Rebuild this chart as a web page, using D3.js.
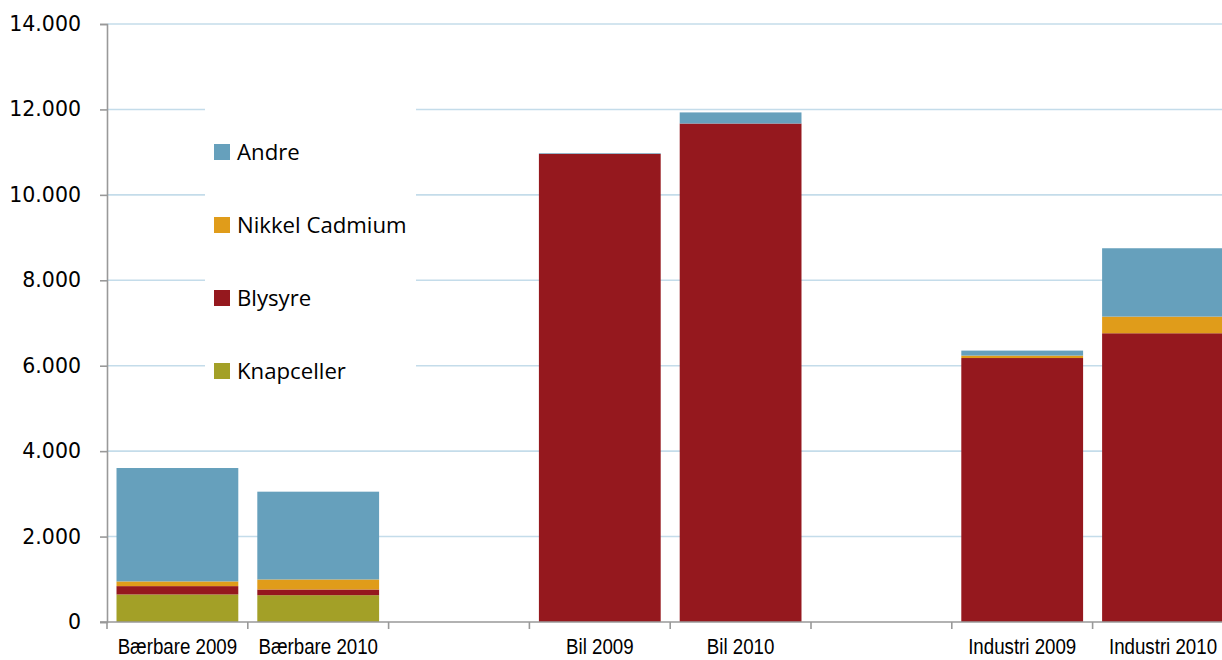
<!DOCTYPE html>
<html>
<head>
<meta charset="utf-8">
<script src="https://cdn.jsdelivr.net/npm/d3@7"></script>
<style>
  body { margin: 0; background: #fff; }
  svg { display: block; }
</style>
</head>
<body>
<div id="chart"></div>
<script>
// categories (blank slots are gaps between the groups)
var categories = ["Bærbare 2009", "Bærbare 2010", "", "Bil 2009", "Bil 2010", "", "Industri 2009", "Industri 2010"];
// series values, bottom to top
var knapceller = [645, 628, 0, 0, 0, 0, 0, 0];
var blysyre = [195, 133, 0, 10960, 11670, 0, 6180, 6760];
var nikkelCadmium = [110, 235, 0, 0, 0, 0, 57, 390];
var andre = [2655, 2055, 0, 15, 260, 0, 117, 1600];
var seriesNames = ["Knapceller", "Blysyre", "Nikkel Cadmium", "Andre"];
var colors = ["#a3a027", "#95181e", "#e09c1a", "#66a0bc"];
var yTicks = [0, 2000, 4000, 6000, 8000, 10000, 12000, 14000];

var chart = {
    width: 1222,
    height: 660,
    left: 107,
    top: 24,
    bottom: 622,
    band: 140.8
};

var rows = categories.map(function (c, i) {
    return {
        idx: i,
        "Knapceller": knapceller[i],
        "Blysyre": blysyre[i],
        "Nikkel Cadmium": nikkelCadmium[i],
        "Andre": andre[i]
    };
});

var svg = d3.select("#chart")
    .append("svg")
    .attr("width", chart.width)
    .attr("height", chart.height);

var x = d3.scaleBand()
    .domain(d3.range(categories.length))
    .range([chart.left, chart.left + chart.band * categories.length])
    .paddingInner(0.135)
    .paddingOuter(0.0675);

var y = d3.scaleLinear()
    .domain([0, 14000])
    .range([chart.bottom, chart.top]);

// gridlines
svg.append("g")
    .selectAll("line")
    .data(yTicks.slice(1))
    .enter()
    .append("line")
    .attr("x1", chart.left)
    .attr("x2", chart.width)
    .attr("y1", function (d) { return y(d); })
    .attr("y2", function (d) { return y(d); })
    .attr("stroke", "#c4dcea")
    .attr("stroke-width", 1.6);

// stacked bars
var stack = d3.stack().keys(seriesNames)(rows);

svg.append("g")
    .selectAll("g")
    .data(stack)
    .enter()
    .append("g")
    .attr("fill", function (d, i) { return colors[i]; })
    .selectAll("rect")
    .data(function (d) { return d; })
    .enter()
    .append("rect")
    .filter(function (d) { return d[1] > d[0]; })
    .attr("x", function (d) { return x(d.data.idx); })
    .attr("y", function (d) { return y(d[1]); })
    .attr("width", x.bandwidth())
    .attr("height", function (d) { return y(d[0]) - y(d[1]); });

// y axis
var yAxis = svg.append("g")
    .attr("transform", "translate(" + chart.left + ",0)")
    .call(d3.axisLeft(y)
        .tickValues(yTicks)
        .tickSize(7)
        .tickPadding(19)
        .tickFormat(function (d) { return d3.format(",")(d).replace(/,/g, "."); }));
yAxis.selectAll("text")
    .attr("font-family", "DejaVu Sans, Verdana, sans-serif")
    .attr("font-size", 20.5)
    .attr("fill", "#000");

// x axis: labels centred on bars, ticks on band edges
var xAxis = svg.append("g")
    .attr("transform", "translate(0," + chart.bottom + ")")
    .call(d3.axisBottom(x)
        .tickSize(0)
        .tickPadding(17)
        .tickFormat(function (i) { return categories[i]; }));
xAxis.select(".domain").remove();
xAxis.selectAll("text")
    .attr("font-family", "Liberation Sans, Arial, sans-serif")
    .attr("font-size", 21.5)
    .attr("transform", "scale(0.87,1)")
    .attr("fill", "#000");

var edges = d3.range(categories.length + 1).map(function (i) {
    return chart.left + i * chart.band;
});
svg.append("g")
    .selectAll("line")
    .data(edges)
    .enter()
    .append("line")
    .attr("x1", function (d) { return d; })
    .attr("x2", function (d) { return d; })
    .attr("y1", chart.bottom)
    .attr("y2", chart.bottom + 7)
    .attr("stroke", "#999")
    .attr("stroke-width", 1.6);

svg.append("line")
    .attr("x1", chart.left - 7)
    .attr("x2", chart.width)
    .attr("y1", chart.bottom)
    .attr("y2", chart.bottom)
    .attr("stroke", "#999")
    .attr("stroke-width", 1.6);

yAxis.select(".domain").attr("stroke", "#999").attr("stroke-width", 1.6);
yAxis.selectAll(".tick line").attr("stroke", "#999").attr("stroke-width", 1.6);

// legend
var legend = svg.append("g");
legend.append("rect")
    .attr("x", 205)
    .attr("y", 100)
    .attr("width", 211)
    .attr("height", 296)
    .attr("fill", "#fff");

var legendItems = seriesNames.slice().reverse();
var legendColors = colors.slice().reverse();
var item = legend.selectAll("g.item")
    .data(legendItems)
    .enter()
    .append("g")
    .attr("class", "item")
    .attr("transform", function (d, i) { return "translate(214," + (152 + i * 73) + ")"; });
item.append("rect")
    .attr("x", 0)
    .attr("y", -8)
    .attr("width", 16)
    .attr("height", 16)
    .attr("fill", function (d, i) { return legendColors[i]; });
item.append("text")
    .attr("x", 23)
    .attr("y", 8)
    .attr("font-family", "Open Sans, sans-serif")
    .attr("font-size", 22.2)
    .attr("fill", "#000")
    .text(function (d) { return d; });
</script>
</body>
</html>
